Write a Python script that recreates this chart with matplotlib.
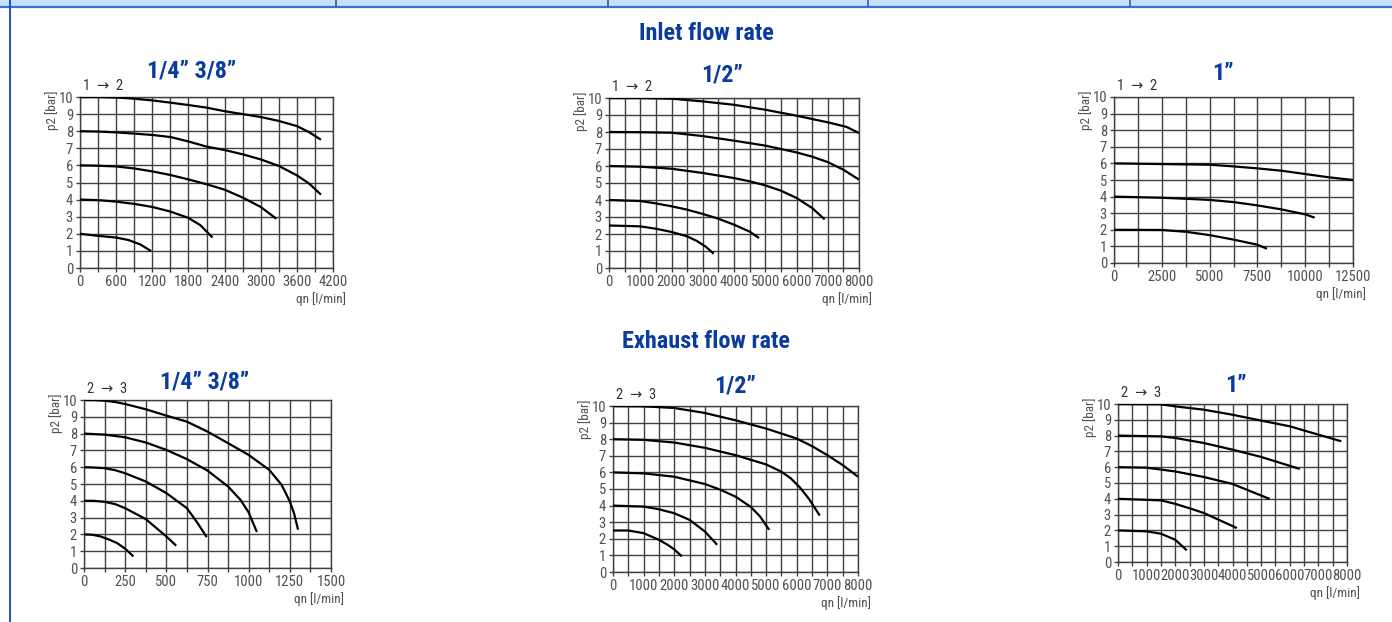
import matplotlib
matplotlib.use('Agg')
import matplotlib.pyplot as plt
from matplotlib import font_manager
from matplotlib.lines import Line2D
from matplotlib.patches import Rectangle
from matplotlib.ticker import MultipleLocator

# --- Data (qn in l/min, p2 in bar) ---
# Inlet flow rate 1 -> 2, 1/4" 3/8"
inlet_a_q = [
    [0, 300, 600, 900, 1200, 1500, 1800, 2100, 2400, 2700, 3000, 3300, 3600, 3800, 4000],
    [0, 300, 600, 900, 1200, 1500, 1800, 2100, 2400, 2700, 3000, 3300, 3600, 3800, 4000],
    [0, 300, 600, 900, 1200, 1500, 1800, 2100, 2400, 2700, 3000, 3260],
    [0, 300, 600, 900, 1200, 1500, 1800, 2000, 2200],
    [0, 300, 600, 800, 1000, 1180],
]
inlet_a_p = [
    [10, 10, 9.97, 9.9, 9.8, 9.67, 9.53, 9.38, 9.17, 9.0, 8.83, 8.6, 8.3, 7.95, 7.5],
    [8, 7.98, 7.93, 7.86, 7.78, 7.66, 7.4, 7.1, 6.9, 6.65, 6.35, 5.97, 5.42, 4.95, 4.29],
    [6, 5.98, 5.94, 5.82, 5.65, 5.44, 5.18, 4.9, 4.58, 4.12, 3.57, 2.88],
    [4, 3.97, 3.88, 3.75, 3.57, 3.3, 2.93, 2.5, 1.78],
    [2, 1.88, 1.78, 1.64, 1.38, 0.99],
]

# Inlet flow rate 1 -> 2, 1/2"
inlet_b_q = [
    [0, 1000, 2000, 3000, 4000, 5000, 6000, 7000, 7600, 8000],
    [0, 1000, 2000, 3000, 4000, 5000, 6000, 6500, 7000, 7500, 8000],
    [0, 1000, 2000, 3000, 4000, 4500, 5000, 5500, 6000, 6500, 6900],
    [0, 1000, 1500, 2000, 2500, 3000, 3500, 4000, 4500, 4800],
    [0, 1000, 1500, 2000, 2500, 2800, 3100, 3350],
]
inlet_b_p = [
    [10, 10, 9.96, 9.8, 9.6, 9.31, 8.96, 8.57, 8.3, 7.94],
    [8, 7.99, 7.96, 7.76, 7.49, 7.2, 6.8, 6.55, 6.23, 5.78, 5.2],
    [6, 5.96, 5.84, 5.59, 5.29, 5.1, 4.86, 4.55, 4.12, 3.53, 2.86],
    [4, 3.94, 3.8, 3.63, 3.43, 3.18, 2.9, 2.55, 2.14, 1.76],
    [2.5, 2.45, 2.31, 2.12, 1.86, 1.6, 1.25, 0.84],
]

# Inlet flow rate 1 -> 2, 1"
inlet_c_q = [
    [0, 2500, 5000, 6250, 7500, 8750, 10000, 11250, 12500],
    [0, 2500, 3750, 5000, 6250, 7500, 8750, 10000, 10500],
    [0, 2500, 3750, 5000, 6250, 7500, 8000],
]
inlet_c_p = [
    [6, 5.96, 5.92, 5.82, 5.7, 5.56, 5.36, 5.16, 5.0],
    [4, 3.93, 3.87, 3.8, 3.67, 3.47, 3.23, 2.93, 2.73],
    [2, 1.99, 1.88, 1.68, 1.41, 1.1, 0.86],
]

# Exhaust flow rate 2 -> 3, 1/4" 3/8"
exhaust_a_q = [
    [0, 60, 125, 190, 250, 375, 500, 625, 750, 875, 1000, 1125, 1200, 1250, 1275, 1300],
    [0, 125, 250, 375, 500, 625, 750, 875, 950, 1000, 1050],
    [0, 60, 125, 190, 250, 375, 500, 625, 690, 745],
    [0, 60, 125, 190, 250, 375, 500, 560],
    [0, 50, 100, 150, 200, 250, 300],
]
exhaust_a_p = [
    [10, 10, 9.96, 9.88, 9.76, 9.45, 9.07, 8.71, 8.12, 7.43, 6.73, 5.84, 4.95, 3.96, 3.27, 2.28],
    [8, 7.94, 7.78, 7.47, 7.03, 6.48, 5.8, 4.85, 4.06, 3.31, 2.14],
    [6, 5.98, 5.94, 5.82, 5.64, 5.15, 4.46, 3.56, 2.67, 1.84],
    [4, 4.0, 3.94, 3.8, 3.56, 2.91, 1.88, 1.33],
    [2, 1.98, 1.88, 1.7, 1.49, 1.15, 0.69],
]

# Exhaust flow rate 2 -> 3, 1/2"
exhaust_b_q = [
    [0, 1000, 2000, 3000, 4000, 5000, 6000, 6500, 7000, 7500, 8000],
    [0, 1000, 2000, 3000, 4000, 5000, 5500, 5800, 6100, 6400, 6750],
    [0, 1000, 2000, 3000, 3500, 4000, 4500, 4800, 5100],
    [0, 1000, 1500, 2000, 2500, 3000, 3400],
    [0, 500, 1000, 1500, 1800, 2000, 2250],
]
exhaust_b_p = [
    [10, 9.98, 9.88, 9.58, 9.14, 8.64, 8.04, 7.58, 7.04, 6.44, 5.74],
    [8, 7.96, 7.8, 7.48, 7.04, 6.48, 6.04, 5.65, 5.1, 4.4, 3.4],
    [6, 5.94, 5.74, 5.3, 4.96, 4.54, 3.92, 3.35, 2.54],
    [4, 3.94, 3.78, 3.54, 3.14, 2.44, 1.64],
    [2.5, 2.5, 2.34, 1.94, 1.62, 1.36, 0.94],
]

# Exhaust flow rate 2 -> 3, 1"
exhaust_c_q = [
    [0, 1500, 2000, 3000, 4000, 5000, 6000, 7000, 7800],
    [0, 1500, 2000, 3000, 4000, 5000, 6350],
    [0, 1000, 2000, 3000, 4000, 5300],
    [0, 1500, 2000, 2500, 3000, 4150],
    [0, 1000, 1500, 2000, 2400],
]
exhaust_c_p = [
    [10, 9.98, 9.85, 9.64, 9.32, 8.95, 8.59, 8.06, 7.64],
    [8, 7.95, 7.85, 7.53, 7.11, 6.65, 5.89],
    [6, 5.97, 5.73, 5.38, 4.94, 3.99],
    [4, 3.9, 3.68, 3.4, 3.1, 2.15],
    [2, 1.94, 1.79, 1.41, 0.74],
]

# --- Fonts: prefer a narrow sans like the original print ---
entries = font_manager.fontManager.ttflist
names = {f.name for f in entries}
narrow, stretch = None, 'normal'
for n in ['Liberation Sans Narrow', 'Arial Narrow', 'Roboto Condensed',
          'Open Sans Condensed', 'Noto Sans Condensed', 'DejaVu Sans Condensed']:
    if n in names:
        narrow = n
        break
if narrow is None:
    for fam in ['Noto Sans', 'Roboto', 'Open Sans', 'DejaVu Sans']:
        if any(f.name == fam and 'condensed' in str(f.stretch) for f in entries):
            narrow, stretch = fam, 'condensed'
            break
tick_size, head_size = 10.5, 17.5
head_family = None
if narrow is None:
    narrow = 'Liberation Sans'
    tick_size, head_size = 8.2, 15
    head_family = ['Liberation Sans', 'DejaVu Sans']

plt.rcParams['font.family'] = ['Liberation Sans', 'DejaVu Sans']
small = dict(family=[narrow, 'DejaVu Sans'], stretch=stretch)
head = dict(family=head_family or [narrow, 'DejaVu Sans'], stretch=stretch,
            fontweight='bold', fontsize=head_size)

W, H = 1392, 622
BLUE = '#0a3ca0'
GRID = '#404040'
TICKC = '#505050'

fig = plt.figure(figsize=(W / 100, H / 100), dpi=100)

# page frame: header band and left rule
fig.add_artist(Rectangle((0, 1 - 6 / H), 1, 6 / H, transform=fig.transFigure,
                         facecolor='#c6e1f6', edgecolor='none'))
fig.add_artist(Line2D([0, 1], [1 - 6.5 / H] * 2, color='#3d6fd0', lw=1.6))
for xd in [336, 608, 868, 1130]:
    fig.add_artist(Line2D([xd / W] * 2, [1 - 6 / H, 1], color='#2a5cc0', lw=1.2))
fig.add_artist(Line2D([9.5 / W] * 2, [0, 1], color='#1f4fbf', lw=1.4))


def fig_text(x, y, s, **kw):
    fig.text(x / W, 1 - y / H, s, **kw)


def panel(x0, x1, ytop, ybot, qs, ps, xmax, xmajor, xminor, arrow, title, tx, ty):
    ax = fig.add_axes([x0 / W, 1 - ybot / H, (x1 - x0) / W, (ybot - ytop) / H])
    for q, p in zip(qs, ps):
        ax.plot(q, p, color='black', lw=1.6, solid_capstyle='butt',
                solid_joinstyle='round', zorder=3)
    ax.set_xlim(0, xmax)
    ax.set_ylim(0, 10)
    ax.xaxis.set_major_locator(MultipleLocator(xmajor))
    ax.xaxis.set_minor_locator(MultipleLocator(xminor))
    ax.yaxis.set_major_locator(MultipleLocator(1))
    ax.grid(True, which='both', color=GRID, lw=1.0)
    for sp in ax.spines.values():
        sp.set_color(GRID)
        sp.set_linewidth(1.0)
    ax.tick_params(which='both', direction='out', length=3, width=1.0, color=GRID,
                   labelcolor=TICKC, pad=2)
    for lab in ax.get_xticklabels() + ax.get_yticklabels():
        lab.set_fontfamily(small['family'])
        lab.set_fontstretch(stretch)
        lab.set_fontsize(tick_size)
    ax.set_facecolor('white')
    # labels around the grid
    fig_text(x0 - 28, ytop + 13, 'p2 [bar]', rotation=90, ha='center', va='center',
             fontsize=tick_size - 1, color=TICKC, **small)
    fig_text(x0 + 3, ytop - 11, arrow, ha='left', va='center', fontsize=tick_size,
             color='#333333', **small)
    fig_text(x1 + 13, ybot + 31, 'qn [l/min]', ha='right', va='center',
             fontsize=tick_size - 1, color=TICKC, **small)
    fig_text(tx, ty, title, ha='center', va='center', color=BLUE, **head)
    return ax


fig_text(706, 33, 'Inlet flow rate', ha='center', va='center', color=BLUE, **head)
fig_text(706, 342, 'Exhaust flow rate', ha='center', va='center', color=BLUE, **head)

panel(80, 333, 97, 268, inlet_a_q, inlet_a_p, 4200, 600, 300,
      '1  \u2192  2', '1/4\u201d 3/8\u201d', 192, 71)
panel(609, 859, 98, 268, inlet_b_q, inlet_b_p, 8000, 1000, 500,
      '1  \u2192  2', '1/2\u201d', 722, 75)
panel(1114, 1353, 97, 263, inlet_c_q, inlet_c_p, 12500, 2500, 1250,
      '1  \u2192  2', '1\u201d', 1223, 73)
panel(84, 331, 400, 568, exhaust_a_q, exhaust_a_p, 1500, 250, 125,
      '2  \u2192  3', '1/4\u201d 3/8\u201d', 205, 382)
panel(613, 858, 406, 572, exhaust_b_q, exhaust_b_p, 8000, 1000, 500,
      '2  \u2192  3', '1/2\u201d', 735, 386)
panel(1118, 1347, 404, 562, exhaust_c_q, exhaust_c_p, 8000, 1000, 500,
      '2  \u2192  3', '1\u201d', 1236, 385)

fig.savefig('out.png', dpi=100)
